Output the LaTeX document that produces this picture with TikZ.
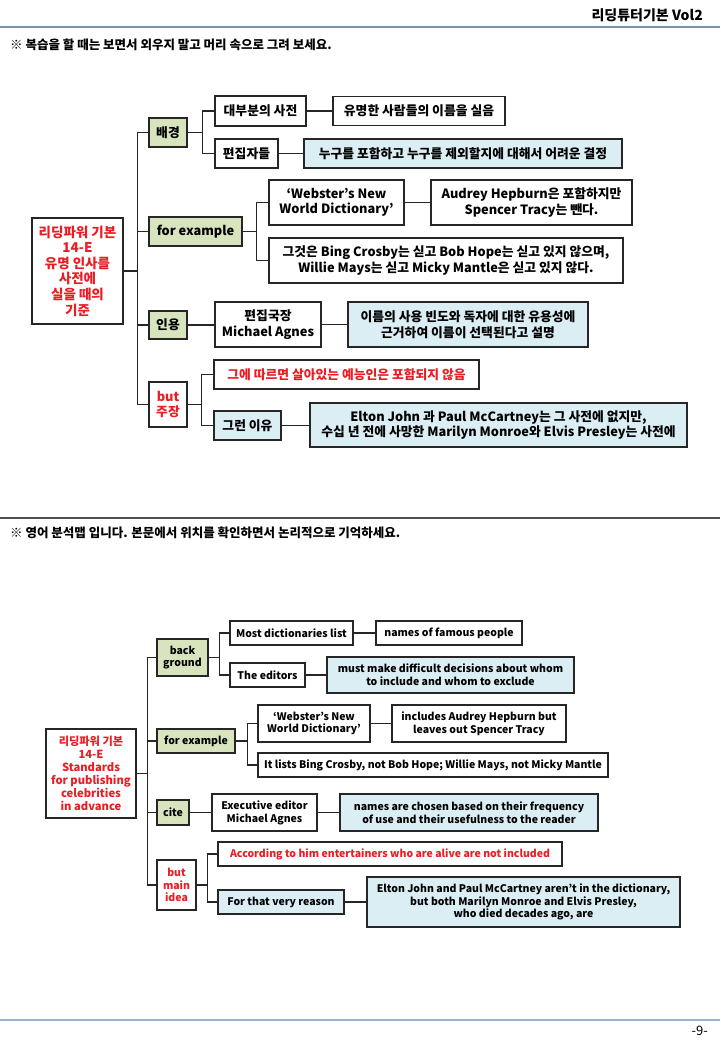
\documentclass[tikz,border=0pt]{standalone}
\usepackage{fontspec}
\setmainfont{Noto Sans CJK KR}
\definecolor{gfill}{RGB}{215,228,189}
\definecolor{bfill}{RGB}{219,238,244}
\definecolor{myred}{RGB}{236,28,36}
\definecolor{edgec}{RGB}{38,38,38}
\definecolor{rulea}{RGB}{120,148,172}
\definecolor{ruleb}{RGB}{80,80,80}
\definecolor{rulec}{RGB}{150,182,206}
\tikzset{
  box/.style={draw=edgec, line width=1.1pt, rectangle, inner sep=0pt, align=center, fill=white, text=black, font=\fontsize{12.8}{15.5}\selectfont\bfseries},
  sbox/.style={box, font=\fontsize{10.5}{12.8}\selectfont\bfseries},
  gbox/.style={fill=gfill},
  bbox/.style={fill=bfill},
  rtext/.style={text=myred},
  link/.style={draw=edgec, line width=1.1pt},
}
\begin{document}
\begin{tikzpicture}[x=1pt,y=-1pt]
\useasboundingbox (0,0) rectangle (720,1040);
% header
\node[anchor=east, inner sep=0pt, font=\fontsize{14}{16}\selectfont\bfseries] (hdr) at (703,15) {리딩튜터기본 Vol2};
\draw[rulea, line width=1.3pt] (0,27) -- (720,27);
\node[anchor=west, inner sep=0pt, font=\fontsize{12.5}{14}\selectfont\bfseries] (ins1) at (10,45) {※ 복습을 할 때는 보면서 외우지 말고 머리 속으로 그려 보세요.};
\draw[ruleb, line width=1.1pt] (0,518) -- (720,518);
\node[anchor=west, inner sep=0pt, font=\fontsize{12.5}{14}\selectfont\bfseries] (ins2) at (10,533) {※ 영어 분석맵 입니다. 본문에서 위치를 확인하면서 논리적으로 기억하세요.};
\draw[rulec, line width=1.1pt] (0,1020) -- (720,1020);
\node[anchor=east, inner sep=0pt, font=\fontsize{13}{15}\selectfont] (pg) at (708,1031) {-9-};

% ===== top diagram =====
\node[box, rtext, minimum width=91pt, minimum height=106pt, font=\fontsize{13.5}{15.6}\selectfont\bfseries] (root1) at (77.5,271) {리딩파워 기본\\14-E\\유명 인사를\\사전에\\실을 때의\\기준};
\node[box, gbox, minimum width=38pt, minimum height=29pt] (bg1) at (168,132.5) {배경};
\node[box, minimum width=91pt, minimum height=30pt] (d1) at (260.5,111) {대부분의 사전};
\node[box, minimum width=172pt, minimum height=29pt] (d2) at (419,111) {유명한 사람들의 이름을 실음};
\node[box, minimum width=63pt, minimum height=29pt] (e1) at (246.5,153.5) {편집자들};
\node[box, bbox, minimum width=318pt, minimum height=29pt] (e2) at (463,153.5) {누구를 포함하고 누구를 제외할지에 대해서 어려운 결정};
\node[box, gbox, minimum width=93pt, minimum height=29pt] (fe1) at (195.5,231.5) {for example};
\node[box, minimum width=135pt, minimum height=45pt] (w1) at (336.5,202.5) {‘Webster’s New\\World Dictionary’};
\node[box, minimum width=201pt, minimum height=45pt] (a1) at (531.5,202.5) {Audrey Hepburn은 포함하지만\\Spencer Tracy는 뺀다.};
\node[box, minimum width=354pt, minimum height=45pt] (b1) at (446,260.5) {그것은 Bing Crosby는 싣고 Bob Hope는 싣고 있지 않으며,\\Willie Mays는 싣고 Micky Mantle은 싣고 있지 않다.};
\node[box, gbox, minimum width=38pt, minimum height=28pt] (c1) at (168,325) {인용};
\node[box, minimum width=106pt, minimum height=45pt] (m1) at (268,324.5) {편집국장\\Michael Agnes};
\node[box, bbox, minimum width=240pt, minimum height=45pt] (n1) at (468,324.5) {이름의 사용 빈도와 독자에 대한 유용성에\\근거하여 이름이 선택된다고 설명};
\node[box, rtext, minimum width=38pt, minimum height=45pt] (but1) at (168,404.5) {but\\주장};
\node[box, rtext, minimum width=265pt, minimum height=29pt] (g1) at (346.5,374.5) {그에 따르면 살아있는 예능인은 포함되지 않음};
\node[box, bbox, minimum width=67pt, minimum height=29pt] (r1) at (247.5,425.5) {그런 이유};
\node[box, bbox, minimum width=377pt, minimum height=44pt] (el1) at (498.5,425) {Elton John 과 Paul McCartney는 그 사전에 없지만,\\수십 년 전에 사망한 Marilyn Monroe와 Elvis Presley는 사전에};

\foreach \c in {bg1,fe1,c1,but1}
  \draw[link] (root1.east) -- ([xshift=14pt]root1.east) |- (\c.west);
\foreach \c in {d1,e1}
  \draw[link] (bg1.east) -- ([xshift=15pt]bg1.east) |- (\c.west);
\foreach \c in {w1,b1}
  \draw[link] (fe1.east) -- ([xshift=14pt]fe1.east) |- (\c.west);
\foreach \c in {g1,r1}
  \draw[link] (but1.east) -- ([xshift=14pt]but1.east) |- (\c.west);
\draw[link] (d1.east) -- (d1.east -| d2.west);
\draw[link] (e1.east) -- (e1.east -| e2.west);
\draw[link] (w1.east) -- (w1.east -| a1.west);
\draw[link] (c1.east) -- (c1.east -| m1.west);
\draw[link] (m1.east) -- (m1.east -| n1.west);
\draw[link] (r1.east) -- (r1.east -| el1.west);

% ===== bottom diagram =====
\node[sbox, rtext, minimum width=90pt, minimum height=89pt, font=\fontsize{11.2}{13}\selectfont\bfseries] (root2) at (91,773.5) {리딩파워 기본\\14-E\\Standards\\for publishing\\celebrities\\in advance};
\node[sbox, gbox, minimum width=51pt, minimum height=37pt] (bg2) at (182.5,657.5) {back\\ground};
\node[sbox, minimum width=123pt, minimum height=24pt] (md) at (291.5,633) {Most dictionaries list};
\node[sbox, minimum width=146pt, minimum height=24pt] (nf) at (449,633) {names of famous people};
\node[sbox, minimum width=75pt, minimum height=24pt] (ed) at (267.5,675) {The editors};
\node[sbox, bbox, minimum width=247pt, minimum height=36pt] (mm) at (450.5,675) {must make difficult decisions about whom\\to include and whom to exclude};
\node[sbox, gbox, minimum width=78pt, minimum height=24pt] (fe2) at (196,741) {for example};
\node[sbox, minimum width=112pt, minimum height=37pt] (w2) at (314,723.5) {‘Webster’s New\\World Dictionary’};
\node[sbox, minimum width=174pt, minimum height=37pt] (ia) at (479,723.5) {includes Audrey Hepburn but\\leaves out Spencer Tracy};
\node[sbox, minimum width=350pt, minimum height=24pt] (il) at (433,765) {It lists Bing Crosby, not Bob Hope; Willie Mays, not Micky Mantle};
\node[sbox, gbox, minimum width=32pt, minimum height=25pt] (cite) at (173,812.5) {cite};
\node[sbox, minimum width=105pt, minimum height=37pt] (ee) at (264.5,812.5) {Executive editor\\Michael Agnes};
\node[sbox, bbox, minimum width=258pt, minimum height=37pt] (nc) at (469,812.5) {names are chosen based on their frequency\\of use and their usefulness to the reader};
\node[sbox, rtext, minimum width=39pt, minimum height=50pt] (bm) at (176.5,885) {but\\main\\idea};
\node[sbox, rtext, minimum width=344pt, minimum height=24pt] (ac) at (390,854) {According to him entertainers who are alive are not included};
\node[sbox, bbox, minimum width=126pt, minimum height=24pt] (fr) at (281,902) {For that very reason};
\node[sbox, bbox, minimum width=313pt, minimum height=50pt] (el2) at (523.5,902) {Elton John and Paul McCartney aren’t in the dictionary,\\but both Marilyn Monroe and Elvis Presley,\\who died decades ago, are};

\foreach \c in {bg2,fe2,cite,bm}
  \draw[link] (root2.east) -- ([xshift=11pt]root2.east) |- (\c.west);
\foreach \c in {md,ed}
  \draw[link] (bg2.east) -- ([xshift=11pt]bg2.east) |- (\c.west);
\foreach \c in {w2,il}
  \draw[link] (fe2.east) -- ([xshift=12pt]fe2.east) |- (\c.west);
\foreach \c in {ac,fr}
  \draw[link] (bm.east) -- ([xshift=11pt]bm.east) |- (\c.west);
\draw[link] (md.east) -- (md.east -| nf.west);
\draw[link] (ed.east) -- (ed.east -| mm.west);
\draw[link] (w2.east) -- (w2.east -| ia.west);
\draw[link] (cite.east) -- (cite.east -| ee.west);
\draw[link] (ee.east) -- (ee.east -| nc.west);
\draw[link] (fr.east) -- (fr.east -| el2.west);
\end{tikzpicture}
\end{document}
